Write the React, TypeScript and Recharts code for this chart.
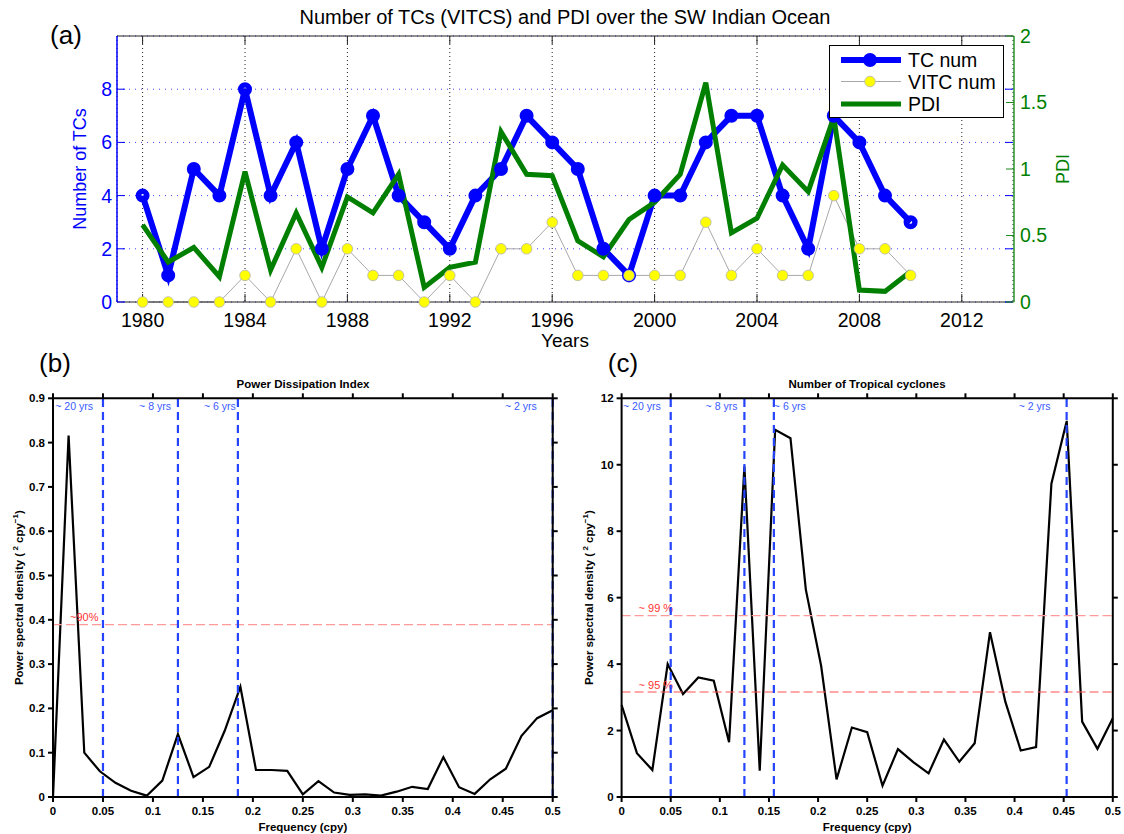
import {
  ComposedChart,
  LineChart,
  Line,
  XAxis,
  YAxis,
  CartesianGrid,
  ReferenceLine,
  Legend,
} from 'recharts'

const FONT = '"Liberation Sans", Arial, Helvetica, sans-serif'

// annual series, 1980-2010
const years = [
  1980, 1981, 1982, 1983, 1984, 1985, 1986, 1987, 1988, 1989, 1990, 1991, 1992, 1993, 1994, 1995,
  1996, 1997, 1998, 1999, 2000, 2001, 2002, 2003, 2004, 2005, 2006, 2007, 2008, 2009, 2010,
]
const tcNum = [4, 1, 5, 4, 8, 4, 6, 2, 5, 7, 4, 3, 2, 4, 5, 7, 6, 5, 2, 1, 4, 4, 6, 7, 7, 4, 2, 7, 6, 4, 3]
const vitcNum = [0, 0, 0, 0, 1, 0, 2, 0, 2, 1, 1, 0, 1, 0, 2, 2, 3, 1, 1, 1, 1, 1, 3, 1, 2, 1, 1, 4, 2, 2, 1]
const pdi = [
  0.58, 0.3, 0.41, 0.19, 0.98, 0.24, 0.67, 0.26, 0.79, 0.67, 0.96, 0.11, 0.26, 0.3, 1.28, 0.96,
  0.95, 0.46, 0.34, 0.62, 0.75, 0.96, 1.65, 0.52, 0.63, 1.03, 0.83, 1.39, 0.09, 0.08, 0.23,
]
const yearTicks = [1980, 1984, 1988, 1992, 1996, 2000, 2004, 2008, 2012]
const countTicks = [0, 2, 4, 6, 8]
const pdiTicks = [0, 0.5, 1, 1.5, 2]

// periodograms (k/64 cpy)
const freq = [
  0, 0.0156, 0.0313, 0.0469, 0.0625, 0.0781, 0.0938, 0.1094, 0.125, 0.1406, 0.1563, 0.1719,
  0.1875, 0.2031, 0.2188, 0.2344, 0.25, 0.2656, 0.2813, 0.2969, 0.3125, 0.3281, 0.3438, 0.3594,
  0.375, 0.3906, 0.4063, 0.4219, 0.4375, 0.4531, 0.4688, 0.4844, 0.5,
]
const pdiPsd = [
  0, 0.816, 0.1, 0.058, 0.032, 0.014, 0.003, 0.037, 0.142, 0.045, 0.068, 0.15, 0.249, 0.061,
  0.061, 0.059, 0.006, 0.036, 0.01, 0.005, 0.006, 0.003, 0.012, 0.023, 0.018, 0.09, 0.022, 0.007,
  0.04, 0.064, 0.138, 0.178, 0.196,
]
const tcPsd = [
  2.77, 1.32, 0.81, 4.0, 3.1, 3.6, 3.5, 1.65, 9.95, 0.79, 11.05, 10.8, 6.25, 3.95, 0.53, 2.09,
  1.95, 0.34, 1.44, 1.05, 0.71, 1.73, 1.06, 1.62, 4.96, 2.87, 1.4, 1.5, 9.43, 11.32, 2.27, 1.45,
  2.37,
]
const freqTicks = [0, 0.05, 0.1, 0.15, 0.2, 0.25, 0.3, 0.35, 0.4, 0.45, 0.5]
const pdiPsdTicks = [0, 0.1, 0.2, 0.3, 0.4, 0.5, 0.6, 0.7, 0.8, 0.9]
const tcPsdTicks = [0, 2, 4, 6, 8, 10, 12]

const pdiPeriods = [0.05, 0.125, 0.185, 0.5]
const tcPeriods = [0.05, 0.125, 0.155, 0.453]
const periodTags = ['~ 20 yrs', '~ 8 yrs', '~ 6 yrs', '~ 2 yrs']
const pdiLevels = [0.389]
const pdiLevelTags = ['~90%']
const tcLevels = [5.46, 3.16]
const tcLevelTags = ['~ 99 %', '~ 95 %']

const BLUE = '#0000ff'
const GREEN = '#007f00'
const PERIOD_BLUE = '#2444ff'

const fmtFreq = (v: number) => String(+v.toFixed(2))

// tick marks only, no text (box edges)
const NoText = () => null

const RotatedLabel = ({ viewBox, dx, text, color, size }: any) => {
  if (!viewBox) return null
  const cx = viewBox.x + dx
  const cy = viewBox.y + viewBox.height / 2
  return (
    <text
      x={cx}
      y={cy}
      transform={`rotate(-90 ${cx} ${cy})`}
      textAnchor="middle"
      dominantBaseline="central"
      fontSize={size}
      fill={color}
    >
      {text}
    </text>
  )
}

const YearsLabel = ({ viewBox }: any) => {
  if (!viewBox) return null
  return (
    <text x={viewBox.x + viewBox.width / 2} y={viewBox.y + 38} textAnchor="middle" dominantBaseline="central" fontSize={19} fill="#000">
      Years
    </text>
  )
}

const CountLegend = () => (
  <svg width={175} height={73} style={{ display: 'block' }}>
    <rect x={0.5} y={0.5} width={174} height={72} fill="#fff" stroke="#000" strokeWidth={1} />
    <line x1={12} x2={72} y1={15} y2={15} stroke={BLUE} strokeWidth={6} />
    <circle cx={41} cy={15} r={4.3} fill="none" stroke={BLUE} strokeWidth={5.4} />
    <line x1={12} x2={72} y1={36.5} y2={36.5} stroke="#a8a8a8" strokeWidth={1} />
    <circle cx={41} cy={36.5} r={5.3} fill="#ffff00" stroke="#b4b4b4" strokeWidth={0.8} />
    <line x1={12} x2={72} y1={59} y2={59} stroke={GREEN} strokeWidth={5} />
    <g fontSize={19.5} fill="#000">
      <text x={79} y={22}>TC num</text>
      <text x={79} y={43.5}>VITC num</text>
      <text x={79} y={66}>PDI</text>
    </g>
  </svg>
)

function CountChart() {
  const data = years.map((year, i) => ({ year, tc: tcNum[i], vitc: vitcNum[i], pdi: pdi[i] }))
  return (
    <ComposedChart
      width={1124}
      height={360}
      data={data}
      margin={{ top: 35, right: 0, bottom: 18, left: 0 }}
      style={{ fontFamily: FONT }}
    >
      <CartesianGrid horizontal={false} stroke="#222" strokeDasharray="1 3" />
      <CartesianGrid vertical={false} stroke="#4040ff" strokeDasharray="1 5" />
      <XAxis
        dataKey="year"
        type="number"
        domain={[1979, 2014]}
        ticks={yearTicks}
        allowDataOverflow
        height={40}
        stroke="#222"
        tickSize={-8}
        tickMargin={19}
        tick={{ fontSize: 19.5, fill: '#000' }}
        label={<YearsLabel />}
      />
      <XAxis
        xAxisId="top"
        orientation="top"
        dataKey="year"
        type="number"
        domain={[1979, 2014]}
        ticks={yearTicks}
        allowDataOverflow
        height={1}
        stroke="#222"
        tick={NoText}
        tickSize={-8}
      />
      <YAxis
        domain={[0, 10]}
        ticks={countTicks}
        width={117}
        stroke={BLUE}
        axisLine={{ stroke: BLUE, strokeWidth: 1.5 }}
        tickSize={-8}
        tickMargin={13}
        tick={{ fontSize: 19.5, fill: BLUE }}
        label={<RotatedLabel dx={80} text="Number of TCs" color={BLUE} size={18} />}
      />
      <YAxis
        yAxisId="mirror"
        orientation="right"
        domain={[0, 10]}
        ticks={countTicks}
        width={1}
        axisLine={false}
        tick={NoText}
        tickSize={-8}
        stroke={BLUE}
      />
      <YAxis
        yAxisId="pdi"
        orientation="right"
        domain={[0, 2]}
        ticks={pdiTicks}
        width={110}
        stroke="#1a8a1a"
        axisLine={{ stroke: '#1a8a1a', strokeWidth: 1.4 }}
        tickSize={-8}
        tickMargin={14}
        tick={{ fontSize: 19.5, fill: GREEN }}
        label={<RotatedLabel dx={49} text="PDI" color={GREEN} size={18} />}
      />
      <Line
        dataKey="tc"
        stroke={BLUE}
        strokeWidth={6}
        dot={{ r: 4.3, fill: 'none', stroke: BLUE, strokeWidth: 5.4 }}
        isAnimationActive={false}
      />
      {/* same scales as the primary pair; binding it keeps the frame axes live */}
      <Line
        xAxisId="top"
        yAxisId="mirror"
        dataKey="vitc"
        stroke="#a8a8a8"
        strokeWidth={1}
        dot={{ r: 5.3, fill: '#ffff00', stroke: '#b4b4b4', strokeWidth: 0.8 }}
        isAnimationActive={false}
      />
      <Line yAxisId="pdi" dataKey="pdi" stroke={GREEN} strokeWidth={5} dot={false} isAnimationActive={false} />
      <Legend
        layout="vertical"
        align="center"
        verticalAlign="middle"
        content={<CountLegend />}
        wrapperStyle={{ left: 829, top: 45, width: 175, height: 73 }}
      />
    </ComposedChart>
  )
}

const PeriodTag = ({ viewBox, text, dx }: any) => {
  if (!viewBox) return null
  return (
    <text x={viewBox.x + dx} y={viewBox.y + 12} textAnchor={dx < 0 ? 'end' : 'start'} fontSize={10.5} fill="#3a5cff">
      {text}
    </text>
  )
}

const LevelTag = ({ viewBox, text }: any) => {
  if (!viewBox) return null
  return (
    <text x={viewBox.x + 17} y={viewBox.y - 3.5} fontSize={11} fill="#ff3333">
      {text}
    </text>
  )
}

const FreqLabel = ({ viewBox }: any) => {
  if (!viewBox) return null
  return (
    <text x={viewBox.x + viewBox.width / 2} y={viewBox.y + 29.7} textAnchor="middle" dominantBaseline="central" fontSize={11.5} fontWeight={700} fill="#000">
      Frequency (cpy)
    </text>
  )
}

const PsdLabel = ({ viewBox, dx }: any) => {
  if (!viewBox) return null
  const cx = viewBox.x + dx
  const cy = viewBox.y + viewBox.height / 2
  return (
    <text
      x={cx}
      y={cy}
      transform={`rotate(-90 ${cx} ${cy})`}
      textAnchor="middle"
      dominantBaseline="central"
      fontSize={11.5}
      fontWeight={700}
      fill="#000"
    >
      Power spectral density (<tspan dy={-4} fontSize={8}> 2</tspan>
      <tspan dy={4}> cpy</tspan>
      <tspan dy={-4} fontSize={8}>−1</tspan>
      <tspan dy={4}>)</tspan>
    </text>
  )
}

// bold MATLAB-style tick text
const BoldTick = ({ x, y, payload, textAnchor, verticalAnchor, formatter }: any) => {
  const label = formatter ? formatter(payload.value) : String(payload.value)
  const dy = verticalAnchor === 'start' ? '0.72em' : '0.35em'
  return (
    <text x={x} y={y} dy={dy} textAnchor={textAnchor} fontSize={11.5} fontWeight={700} fill="#000">
      {label}
    </text>
  )
}

type SpectrumProps = {
  values: number[]
  yTicks: number[]
  periods: number[]
  levels: number[]
  levelTags: string[]
  levelColors: string[]
  tagDx: number[]
  width: number
  axisWidth: number
  marginRight: number
  labelDx: number
}

function SpectrumChart(p: SpectrumProps) {
  const data = freq.map((f, i) => ({ f, psd: p.values[i] }))
  const yDomain = [0, p.yTicks[p.yTicks.length - 1]]
  const frame = { stroke: '#000', strokeWidth: 2 }
  return (
    <LineChart
      width={p.width}
      height={464}
      data={data}
      margin={{ top: 27.3, right: p.marginRight - 1, bottom: 0, left: 0 }}
      style={{ fontFamily: FONT }}
    >
      <XAxis
        dataKey="f"
        type="number"
        domain={[0, 0.5]}
        ticks={freqTicks}
        height={37}
        axisLine={frame}
        tickLine={frame}
        tickSize={5}
        tickMargin={5}
        tick={<BoldTick formatter={fmtFreq} />}
        label={<FreqLabel />}
      />
      <XAxis
        xAxisId="top"
        orientation="top"
        dataKey="f"
        type="number"
        domain={[0, 0.5]}
        ticks={freqTicks}
        height={1}
        axisLine={frame}
        tickLine={frame}
        tickSize={5}
        tick={NoText}
      />
      <YAxis
        domain={yDomain}
        ticks={p.yTicks}
        width={p.axisWidth}
        axisLine={frame}
        tickLine={frame}
        tickSize={5}
        tickMargin={3}
        tick={<BoldTick />}
        label={<PsdLabel dx={p.labelDx} />}
      />
      <YAxis
        yAxisId="right"
        orientation="right"
        domain={yDomain}
        ticks={p.yTicks}
        width={1}
        axisLine={frame}
        tickLine={frame}
        tickSize={5}
        tick={NoText}
      />
      {/* unstroked twin on the box axes so they get drawn */}
      <Line
        xAxisId="top"
        yAxisId="right"
        dataKey="psd"
        stroke="none"
        dot={false}
        activeDot={false}
        legendType="none"
        isAnimationActive={false}
      />
      <Line dataKey="psd" stroke="#000" strokeWidth={2.2} dot={false} isAnimationActive={false} />
      {p.levels.map((lv, i) => (
        <ReferenceLine
          key={`lv${i}`}
          y={lv}
          stroke={p.levelColors[i]}
          strokeWidth={1.1}
          strokeDasharray="9 4"
          label={<LevelTag text={p.levelTags[i]} />}
        />
      ))}
      {p.periods.map((f, i) => (
        <ReferenceLine
          key={`pd${i}`}
          x={f}
          stroke={PERIOD_BLUE}
          strokeWidth={2.2}
          strokeDasharray="8 5"
          label={<PeriodTag text={periodTags[i]} dx={p.tagDx[i]} />}
        />
      ))}
    </LineChart>
  )
}

const textBox = (left: number, top: number, width: number, size: number, text: string, bold = false) => (
  <div
    style={{
      position: 'absolute',
      left,
      top,
      width,
      height: size + 4,
      lineHeight: `${size + 4}px`,
      fontSize: size,
      fontWeight: bold ? 700 : 400,
      textAlign: 'center',
      color: '#000',
      whiteSpace: 'nowrap',
    }}
  >
    {text}
  </div>
)

export default function App() {
  return (
    <div
      style={{
        position: 'absolute',
        left: 0,
        top: 0,
        width: 1124,
        height: 834,
        background: '#fff',
        fontFamily: FONT,
        overflow: 'hidden',
      }}
    >
      <div style={{ position: 'absolute', left: 0, top: 0 }}>
        <CountChart />
      </div>
      <div style={{ position: 'absolute', left: 0, top: 370 }}>
        <SpectrumChart
          values={pdiPsd}
          yTicks={pdiPsdTicks}
          periods={pdiPeriods}
          levels={pdiLevels}
          levelTags={pdiLevelTags}
          levelColors={['#ff9a9a']}
          tagDx={[-10, -7, -2, -16]}
          width={570}
          axisWidth={53}
          marginRight={17.3}
          labelDx={19}
        />
      </div>
      <div style={{ position: 'absolute', left: 570, top: 370 }}>
        <SpectrumChart
          values={tcPsd}
          yTicks={tcPsdTicks}
          periods={tcPeriods}
          levels={tcLevels}
          levelTags={tcLevelTags}
          levelColors={['#ff9a9a', '#ff5050']}
          tagDx={[-10, -7, 0, -16]}
          width={554}
          axisWidth={51.6}
          marginRight={11.2}
          labelDx={19}
        />
      </div>
      {textBox(0, 4.7, 1130, 20, 'Number of TCs (VITCS) and PDI over the SW Indian Ocean')}
      {textBox(203, 377, 200, 11.5, 'Power Dissipation Index', true)}
      {textBox(767, 377, 200, 11.5, 'Number of Tropical cyclones', true)}
      {textBox(46, 20, 40, 26, '(a)')}
      {textBox(35, 347.5, 40, 26, '(b)')}
      {textBox(603, 347.5, 40, 26, '(c)')}
    </div>
  )
}
